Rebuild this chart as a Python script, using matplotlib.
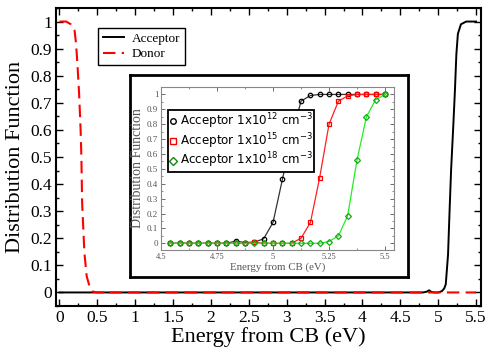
import matplotlib
matplotlib.use("Agg")
import matplotlib.pyplot as plt
from matplotlib.lines import Line2D
from matplotlib.ticker import MultipleLocator, FuncFormatter

# ---------------- data (main plot) ----------------
acc_x = [0.0, 4.80, 4.85, 4.88, 4.91, 4.95, 5.00, 5.05, 5.08, 5.10, 5.13, 5.15,
         5.17, 5.20, 5.22, 5.24, 5.26, 5.30, 5.37, 5.50]
acc_y = [0.0, 0.0, 0.003, 0.008, 0.002, 0.0, 0.0, 0.005, 0.015, 0.03, 0.14, 0.30,
         0.45, 0.62, 0.74, 0.88, 0.955, 0.99, 1.0, 1.0]

don_x = [0.0, 0.05, 0.09, 0.15, 0.20, 0.22, 0.24, 0.26, 0.28, 0.29, 0.30, 0.33,
         0.36, 0.40, 0.44, 0.50, 0.58, 0.61, 0.64, 1.0, 5.50]
don_y = [1.0, 1.0, 1.0, 0.99, 0.967, 0.918, 0.832, 0.734, 0.60, 0.50, 0.33, 0.146,
         0.06, 0.02, 0.003, 0.0, 0.0, 0.006, 0.0, 0.0, 0.0]

main_xticks = [0, 0.5, 1, 1.5, 2, 2.5, 3, 3.5, 4, 4.5, 5, 5.5]
main_yticks = [0, 0.1, 0.2, 0.3, 0.4, 0.5, 0.6, 0.7, 0.8, 0.9, 1]

# ---------------- data (inset) ----------------
ins_x = [4.542, 4.583, 4.625, 4.667, 4.708, 4.750, 4.792, 4.833, 4.875, 4.917,
         4.958, 5.000, 5.042, 5.083, 5.125, 5.167, 5.208, 5.250, 5.292, 5.333,
         5.375, 5.417, 5.458, 5.500]
acc12 = [0, 0, 0, 0, 0, 0, 0, 0.015, 0.005, 0.008, 0.03, 0.14, 0.43, 0.72,
         0.955, 0.993, 1.0, 1.0, 1.0, 1.0, 1.0, 1.0, 1.0, 1.0]
acc15 = [0, 0, 0, 0, 0, 0, 0, 0, 0, 0.007, 0, 0, 0, 0, 0.034, 0.14, 0.44,
         0.80, 0.955, 0.99, 1.0, 1.0, 1.0, 1.0]
acc18 = [0, 0, 0, 0, 0, 0, 0, 0, 0, 0, 0, 0, 0, 0, 0, 0, 0, 0.012, 0.05,
         0.185, 0.56, 0.85, 0.965, 1.0]
ins_xticks = [4.5, 4.75, 5, 5.25, 5.5]
ins_xticklabels = ["4.5", "4.75", "5", "5.25", "5.5"]
ins_yticks = [0, 0.1, 0.2, 0.3, 0.4, 0.5, 0.6, 0.7, 0.8, 0.9, 1]
ins_labels = [r"Acceptor 1x10$^{12}$ cm$^{-3}$",
              r"Acceptor 1x10$^{15}$ cm$^{-3}$",
              r"Acceptor 1x10$^{18}$ cm$^{-3}$"]

serif = ["Liberation Serif", "DejaVu Serif"]
plt.rcParams["mathtext.fontset"] = "dejavusans"

W, H = 488, 350
fig = plt.figure(figsize=(W / 100, H / 100), dpi=100)

def px_axes(x0, y0, x1, y1):
    return fig.add_axes([x0 / W, 1 - y1 / H, (x1 - x0) / W, (y1 - y0) / H])

# ---------------- main axes ----------------
ax = px_axes(56, 8, 481, 306)
ax.plot(acc_x, acc_y, color="black", lw=1.4, label="Acceptor", zorder=3)
ax.plot(don_x, don_y, color="#ff0000", lw=1.5, ls=(0, (6, 3)), label="Donor", zorder=4)
ax.set_xlim(-0.045, 5.565)
ax.set_ylim(-0.05, 1.05)
ax.set_xticks(main_xticks)
ax.set_yticks(main_yticks)
fmt = FuncFormatter(lambda v, p: "%g" % round(v, 3))
ax.xaxis.set_major_formatter(fmt)
ax.yaxis.set_major_formatter(fmt)
ax.xaxis.set_minor_locator(MultipleLocator(0.25))
ax.yaxis.set_minor_locator(MultipleLocator(0.05))
ax.tick_params(which="both", direction="in", top=True, right=True, width=1.0)
ax.tick_params(which="major", length=5, labelsize=12.5, pad=3)
ax.tick_params(which="minor", length=2.5)
for lbl in ax.get_xticklabels() + ax.get_yticklabels():
    lbl.set_family(serif)
for s in ax.spines.values():
    s.set_linewidth(1.5)
ax.set_xlabel("Energy from CB (eV)", family=serif, fontsize=16, labelpad=1)
ax.set_ylabel("Distribution Function", family=serif, fontsize=16, labelpad=4)

leg = ax.legend(loc="upper left", bbox_to_anchor=((98 - 56) / 425, (306 - 28) / 298),
                prop={"family": serif, "size": 9.5}, frameon=True, fancybox=False,
                framealpha=1, edgecolor="black", handlelength=1.6, handletextpad=0.6,
                borderpad=0.35, labelspacing=0.25, borderaxespad=0)
leg.get_frame().set_linewidth(1.0)

# ---------------- inset frame ----------------
fr = px_axes(130, 75, 408, 277)
fr.set_xticks([])
fr.set_yticks([])
for s in fr.spines.values():
    s.set_linewidth(2.0)
    s.set_color("black")
fr.set_facecolor("white")

# ---------------- inset axes ----------------
ia = px_axes(161, 87, 394, 250)
ia.plot(ins_x, acc12, color="#333333", lw=0.9, marker="o", ms=3.2, mfc="none",
        mec="black", mew=0.9)
ia.plot(ins_x, acc15, color="#ff2020", lw=0.9, marker="s", ms=3.2, mfc="none",
        mec="#ff0000", mew=0.9)
ia.plot(ins_x, acc18, color="#22ee22", lw=0.9, marker="D", ms=3.0, mfc="none",
        mec="#11aa11", mew=0.9)
ia.set_xlim(4.5, 5.54)
ia.set_ylim(-0.045, 1.05)
ia.set_xticks(ins_xticks)
ia.set_xticklabels(ins_xticklabels)
ia.set_yticks(ins_yticks)
ia.yaxis.set_major_formatter(fmt)
ia.xaxis.set_minor_locator(MultipleLocator(0.125))
ia.yaxis.set_minor_locator(MultipleLocator(0.05))
ia.tick_params(which="both", direction="in", top=True, right=True, width=0.6,
               color="#777777")
ia.tick_params(which="major", length=3, pad=2, colors="#555555")
ia.tick_params(which="minor", length=1.5)
ia.tick_params(axis="y", labelsize=6.5)
ia.tick_params(axis="x", labelsize=6)
for lbl in ia.get_xticklabels() + ia.get_yticklabels():
    lbl.set_family(serif)
for s in ia.spines.values():
    s.set_linewidth(0.8)
    s.set_color("#888888")
ia.set_xlabel("Energy from CB (eV)", family=serif, fontsize=7.8, color="#555555",
              labelpad=1)
ia.set_ylabel("Distribution Function", family=serif, fontsize=10, color="#555555",
              labelpad=2)

handles = [
    Line2D([], [], ls="none", marker="o", ms=4, mfc="none", mec="black", mew=1.0),
    Line2D([], [], ls="none", marker="s", ms=4, mfc="none", mec="#ff0000", mew=1.0),
    Line2D([], [], ls="none", marker="D", ms=3.6, mfc="none", mec="#118811", mew=1.0),
]
ileg = ia.legend(handles, ins_labels, loc="upper left",
                 bbox_to_anchor=((168 - 161) / 233, (250 - 110) / 163),
                 prop={"family": "DejaVu Sans", "size": 8.6}, frameon=True,
                 fancybox=False, framealpha=1, edgecolor="black", handlelength=0.6,
                 handletextpad=0.3, borderpad=0.1, labelspacing=0.02,
                 borderaxespad=0)
ileg.get_frame().set_linewidth(1.3)

fig.savefig("out.png", dpi=100)
